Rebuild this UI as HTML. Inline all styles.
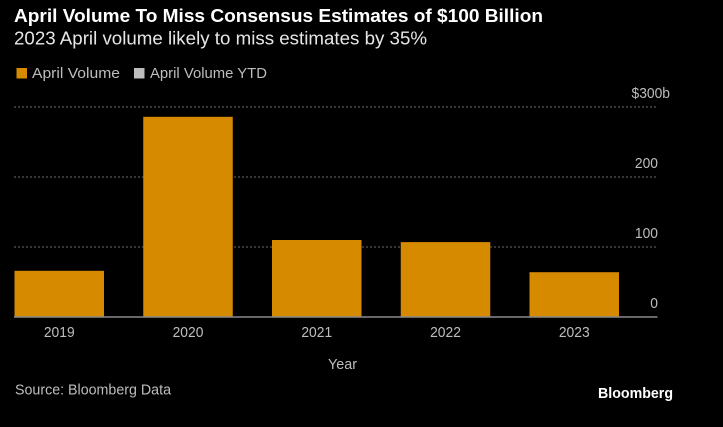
<!DOCTYPE html>
<html lang="en">
<head>
<meta charset="utf-8">
<title>April Volume To Miss Consensus Estimates of $100 Billion</title>
<style>
  html, body { margin: 0; padding: 0; background: #000; }
  svg { display: block; }
  text { font-family: "Liberation Sans", sans-serif; }
</style>
</head>
<body>
<svg id="chart" xmlns="http://www.w3.org/2000/svg" width="723" height="427" viewBox="0 0 723 427">
  <rect x="0" y="0" width="723" height="427" fill="#000"/>
  <text x="14" y="22" font-size="18" font-weight="700" fill="#fff" textLength="529" lengthAdjust="spacingAndGlyphs">April Volume To Miss Consensus Estimates of $100 Billion</text>
  <text x="14" y="44.5" font-size="18" fill="#e6e6e6" textLength="413" lengthAdjust="spacingAndGlyphs">2023 April volume likely to miss estimates by 35%</text>
  <rect x="16.5" y="68" width="10.5" height="10.5" fill="#d68a00"/>
  <text x="32" y="78" font-size="15" fill="#bdbdbd" textLength="88" lengthAdjust="spacingAndGlyphs">April Volume</text>
  <rect x="134" y="68" width="10.5" height="10.5" fill="#bdbdbd"/>
  <text x="150" y="78" font-size="15" fill="#bdbdbd" textLength="117" lengthAdjust="spacingAndGlyphs">April Volume YTD</text>
  <g id="grid"></g>
  <g id="bars"></g>
  <line x1="14" x2="657.5" y1="317" y2="317" stroke="#8a8a8a" stroke-width="1.5"/>
  <g id="y-labels"></g>
  <g id="x-labels"></g>
  <text x="342.5" y="369" font-size="15" fill="#bdbdbd" text-anchor="middle" textLength="29" lengthAdjust="spacingAndGlyphs">Year</text>
  <text x="15" y="394.5" font-size="15" fill="#bdbdbd" textLength="156" lengthAdjust="spacingAndGlyphs">Source: Bloomberg Data</text>
  <text x="598" y="398" font-size="15" font-weight="700" fill="#fff" textLength="75" lengthAdjust="spacingAndGlyphs">Bloomberg</text>
</svg>
<script>
const categories = ['2019', '2020', '2021', '2022', '2023'];
const aprilVolume = [66, 286, 110, 107, 64];
const yTicks = [0, 100, 200, 300];
const yTickLabels = ['0', '100', '200', '$300b'];

const NS = 'http://www.w3.org/2000/svg';
const plotLeft = 14;
const plotRight = 657.5;
const firstBarCenter = 59.25;
const bandStep = 128.75;
const barWidth = 89.5;
const baselineY = 317;
const pixelsPerUnit = 0.7;
const charWidth = 7.7;

function xCenter(i) {
  return firstBarCenter + i * bandStep;
}
function yScale(v) {
  return baselineY - v * pixelsPerUnit;
}
function make(tag, attrs, parentId) {
  const el = document.createElementNS(NS, tag);
  Object.keys(attrs).forEach(function (k) { el.setAttribute(k, attrs[k]); });
  document.getElementById(parentId).appendChild(el);
  return el;
}

yTicks.forEach(function (t, i) {
  if (t !== 0) {
    const line = make('line', {
      x1: plotLeft, x2: plotRight, y1: yScale(t), y2: yScale(t),
      stroke: '#707070', 'stroke-width': 1, 'stroke-dasharray': '2 2'
    }, 'grid');
    
    
  }
  const label = make('text', {
    x: t === 300 ? 670 : 658, y: yScale(t) - 9,
    'font-size': 15, fill: '#bdbdbd', 'text-anchor': 'end',
    textLength: yTickLabels[i].length * charWidth,
    lengthAdjust: 'spacingAndGlyphs'
  }, 'y-labels');
  
  
  label.textContent = yTickLabels[i];
});

categories.forEach(function (c, i) {
  const bar = make('rect', {
    x: xCenter(i) - barWidth / 2, y: yScale(aprilVolume[i]),
    width: barWidth, height: baselineY - yScale(aprilVolume[i]),
    fill: '#d68a00'
  }, 'bars');
  
  

  const label = make('text', {
    x: xCenter(i), y: 337,
    'font-size': 15, fill: '#bdbdbd', 'text-anchor': 'middle',
    textLength: c.length * charWidth,
    lengthAdjust: 'spacingAndGlyphs'
  }, 'x-labels');
  
  
  label.textContent = c;
});
</script>
</body>
</html>
